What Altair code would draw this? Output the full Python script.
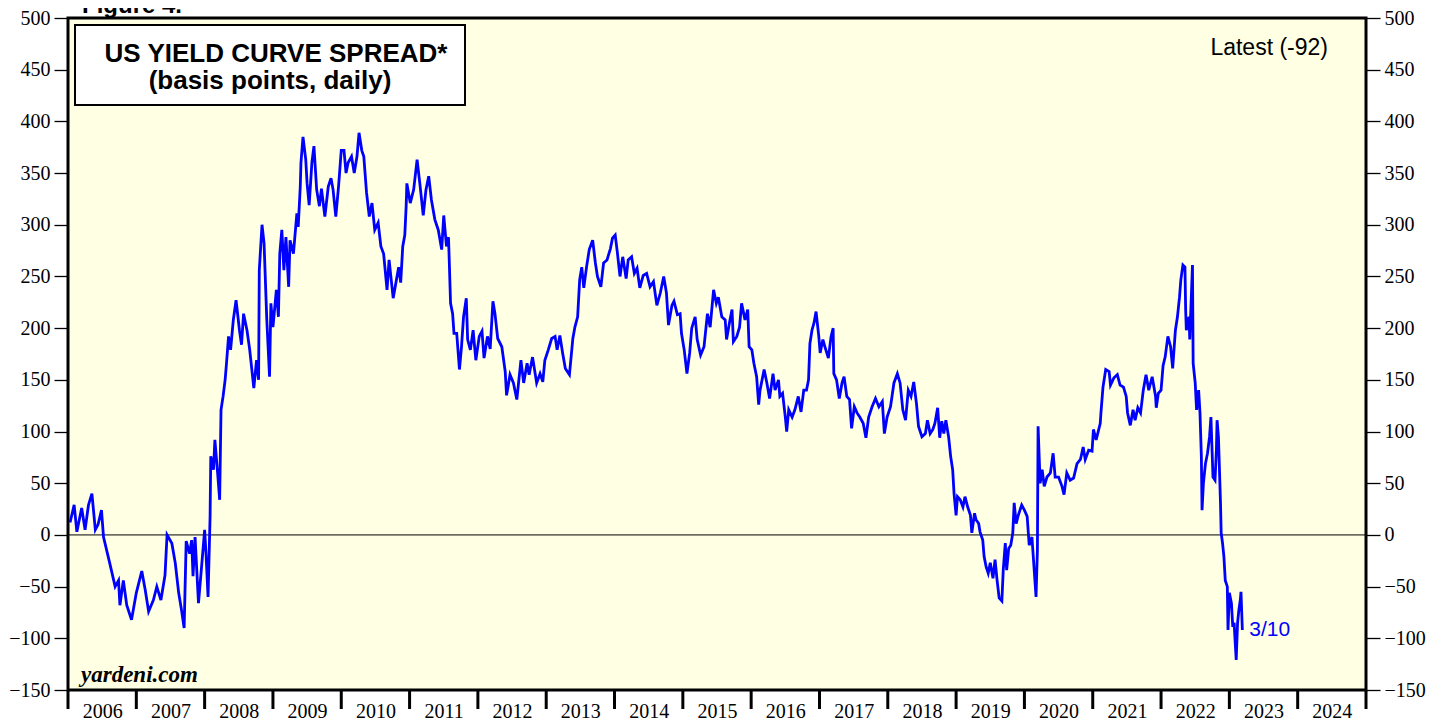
import altair as alt
import pandas as pd

# ---- data (decimal year, basis points) ----
years = [
    2006.03, 2006.09, 2006.13, 2006.20, 2006.25, 2006.30, 2006.35, 2006.40, 2006.44, 2006.49,
    2006.52, 2006.61, 2006.69, 2006.74, 2006.76, 2006.81, 2006.86, 2006.93, 2007.00, 2007.08,
    2007.13, 2007.18, 2007.25, 2007.30, 2007.36, 2007.42, 2007.45, 2007.52, 2007.57, 2007.62,
    2007.66, 2007.70, 2007.73, 2007.78, 2007.81, 2007.83, 2007.86, 2007.91, 2007.96, 2008.00,
    2008.02, 2008.05, 2008.08, 2008.09, 2008.13, 2008.15, 2008.19, 2008.22, 2008.24, 2008.27,
    2008.30, 2008.32, 2008.35, 2008.38, 2008.42, 2008.46, 2008.51, 2008.54, 2008.57, 2008.62,
    2008.66, 2008.72, 2008.76, 2008.79, 2008.80, 2008.84, 2008.87, 2008.91, 2008.95, 2008.97,
    2009.00, 2009.05, 2009.08, 2009.10, 2009.13, 2009.16, 2009.19, 2009.23, 2009.25, 2009.30,
    2009.35, 2009.37, 2009.40, 2009.41, 2009.44, 2009.48, 2009.50, 2009.53, 2009.57, 2009.60,
    2009.64, 2009.68, 2009.71, 2009.76, 2009.81, 2009.85, 2009.88, 2009.92, 2009.96, 2010.00,
    2010.04, 2010.07, 2010.10, 2010.15, 2010.19, 2010.23, 2010.26, 2010.30, 2010.33, 2010.37,
    2010.41, 2010.45, 2010.49, 2010.54, 2010.58, 2010.62, 2010.67, 2010.70,
    2010.76, 2010.84, 2010.87, 2010.90, 2010.93, 2010.95, 2010.96, 2011.01, 2011.06, 2011.11,
    2011.15, 2011.20, 2011.24, 2011.28, 2011.32, 2011.37, 2011.42, 2011.47, 2011.50, 2011.54,
    2011.57, 2011.60, 2011.63, 2011.65, 2011.69, 2011.73, 2011.76, 2011.79, 2011.83, 2011.85,
    2011.89, 2011.93, 2011.97, 2012.02, 2012.06, 2012.09, 2012.14, 2012.18, 2012.22, 2012.25,
    2012.29, 2012.35, 2012.40, 2012.42, 2012.47, 2012.52, 2012.57, 2012.63, 2012.67, 2012.72,
    2012.75, 2012.80, 2012.86, 2012.91, 2012.95, 2012.98, 2013.03, 2013.08, 2013.13, 2013.16,
    2013.20, 2013.24, 2013.28, 2013.34, 2013.39, 2013.42, 2013.46, 2013.49, 2013.52, 2013.55,
    2013.59, 2013.63, 2013.68, 2013.72, 2013.75, 2013.80, 2013.84, 2013.89, 2013.94, 2013.97,
    2014.01, 2014.04, 2014.08, 2014.12, 2014.17, 2014.20, 2014.25, 2014.29, 2014.33, 2014.37,
    2014.42, 2014.47, 2014.52, 2014.57, 2014.62, 2014.67, 2014.72, 2014.76, 2014.79, 2014.84,
    2014.87, 2014.92, 2014.96, 2014.98, 2015.02, 2015.06, 2015.10, 2015.13, 2015.18, 2015.21,
    2015.26, 2015.31, 2015.36, 2015.40,
    2015.45, 2015.49, 2015.52, 2015.57, 2015.62, 2015.64, 2015.69, 2015.72, 2015.74, 2015.79,
    2015.83, 2015.86, 2015.91, 2015.95, 2015.97, 2016.01, 2016.04, 2016.08, 2016.11, 2016.13,
    2016.19, 2016.23, 2016.27, 2016.32, 2016.35, 2016.40, 2016.42, 2016.46, 2016.50, 2016.52,
    2016.55, 2016.60, 2016.64, 2016.69, 2016.73, 2016.77, 2016.81, 2016.84, 2016.86, 2016.89,
    2016.92, 2016.95, 2016.99, 2017.01, 2017.05, 2017.08, 2017.13, 2017.17, 2017.20, 2017.21,
    2017.25, 2017.29, 2017.33, 2017.36, 2017.40, 2017.44, 2017.47, 2017.51, 2017.55, 2017.59,
    2017.64, 2017.68, 2017.72, 2017.77, 2017.82, 2017.87, 2017.92, 2017.95, 2017.99, 2018.04,
    2018.09, 2018.14, 2018.18, 2018.22, 2018.26, 2018.30, 2018.34, 2018.38, 2018.42, 2018.45,
    2018.50, 2018.55, 2018.58, 2018.62, 2018.66, 2018.69, 2018.73, 2018.76, 2018.79, 2018.82,
    2018.85, 2018.89, 2018.92, 2018.95, 2018.97, 2019.00, 2019.02, 2019.06, 2019.10, 2019.13,
    2019.17, 2019.21, 2019.23, 2019.27, 2019.29, 2019.33, 2019.35, 2019.39, 2019.41, 2019.44,
    2019.47, 2019.50, 2019.54, 2019.57, 2019.60, 2019.63, 2019.67, 2019.69, 2019.72, 2019.74,
    2019.77, 2019.80, 2019.83, 2019.85, 2019.88, 2019.91, 2019.96, 2020.00,
    2020.04, 2020.07, 2020.11, 2020.14, 2020.17, 2020.19, 2020.20, 2020.23, 2020.26, 2020.29,
    2020.33, 2020.38, 2020.42, 2020.45, 2020.50, 2020.55, 2020.58, 2020.62, 2020.67, 2020.72,
    2020.77, 2020.82, 2020.86, 2020.89, 2020.94, 2020.99, 2021.01, 2021.05, 2021.11, 2021.12,
    2021.15, 2021.19, 2021.24, 2021.26, 2021.31, 2021.36, 2021.40, 2021.45, 2021.49, 2021.51,
    2021.55, 2021.59, 2021.62, 2021.66, 2021.70, 2021.74, 2021.78, 2021.82, 2021.87, 2021.92,
    2021.93, 2021.96, 2022.00, 2022.03, 2022.06, 2022.10, 2022.14, 2022.17, 2022.21, 2022.24,
    2022.27, 2022.29, 2022.32, 2022.35, 2022.36, 2022.37, 2022.41, 2022.42, 2022.46, 2022.47,
    2022.50, 2022.52, 2022.55, 2022.57, 2022.59, 2022.60, 2022.62, 2022.65, 2022.68, 2022.71,
    2022.73, 2022.76, 2022.79, 2022.81, 2022.82, 2022.84, 2022.87, 2022.88, 2022.90, 2022.92,
    2022.94, 2022.97, 2022.98, 2023.00, 2023.03, 2023.05, 2023.07, 2023.08, 2023.10, 2023.12,
    2023.14, 2023.16, 2023.17, 2023.19,
]
spread = [
    12, 29, 3, 26, 5, 29, 40, 5, 10, 24,
    -2, -27, -50, -44, -68, -44, -68, -82, -56, -35,
    -53, -74, -63, -50, -63, -39, 0, -8, -27, -56,
    -72, -90, -6, -18, -5, -40, -2, -66, -27, 5,
    -18, -60, 18, 76, 63, 92, 60, 34, 121, 134,
    150, 166, 192, 179, 208, 227, 198, 184, 214, 198,
    179, 142, 169, 150, 256, 300, 282, 208, 153, 224,
    201, 237, 211, 272, 295, 256, 288, 240, 285, 272,
    311, 298, 337, 360, 385, 363, 340, 319, 360, 376,
    334, 318, 335, 308, 337, 345, 334, 308, 337, 372,
    372, 350, 360, 366, 350, 366, 389, 372, 366, 331,
    308, 321, 295, 302, 279, 272, 237, 266,
    229, 259, 244, 279, 290, 318, 340, 321, 334, 363,
    340, 309, 334, 347, 324, 305, 295, 276, 309, 279,
    288, 224, 214, 195, 195, 160, 182, 211, 229, 189,
    179, 198, 169, 192, 197, 171, 192, 180, 226, 214,
    190, 182, 158, 135, 155, 147, 131, 169, 147, 166,
    155, 172, 147, 156, 148, 169, 179, 190, 192, 179,
    193, 176, 161, 155, 190, 201, 211, 247, 259, 239,
    259, 276, 285, 263, 250, 240, 263, 266, 277, 287,
    290, 274, 250, 269, 248, 266, 269, 253, 258, 239,
    251, 253, 240, 245, 222, 234, 250, 234, 203, 222,
    226, 213, 214, 195, 179, 156, 176, 200, 211, 189,
    174, 182, 214, 201,
    237, 224, 230, 211, 208, 189, 208, 218, 187, 192,
    201, 224, 208, 218, 182, 179, 166, 153, 126, 140,
    160, 147, 132, 156, 140, 150, 134, 137, 114, 100,
    121, 114, 121, 134, 119, 140, 140, 150, 185, 198,
    205, 216, 192, 176, 189, 182, 171, 192, 200, 156,
    150, 132, 147, 153, 134, 131, 103, 124, 118, 114,
    108, 94, 114, 124, 132, 124, 129, 98, 114, 124,
    147, 156, 147, 121, 111, 140, 134, 148, 127, 105,
    95, 98, 111, 98, 102, 108, 123, 94, 110, 98,
    111, 95, 76, 63, 40, 19, 37, 34, 27, 37,
    27, 19, 2, 21, 15, 11, 3, -5, -21, -31,
    -37, -27, -42, -24, -44, -61, -64, -34, -8, -34,
    -13, -10, 2, 31, 11, 19, 29, 24,
    18, -10, -2, -31, -60, -15, 105, 50, 63, 47,
    56, 60, 79, 56, 56, 47, 39, 60, 53, 55,
    69, 73, 85, 73, 82, 81, 102, 92, 108, 118,
    143, 160, 158, 145, 152, 155, 145, 143, 134, 118,
    106, 121, 111, 123, 118, 140, 155, 140, 153, 134,
    123, 137, 140, 164, 172, 192, 182, 161, 198, 211,
    230, 247, 261, 259, 218, 198, 211, 189, 261, 166,
    147, 121, 140, 118, 76, 24, 50, 69, 79, 95,
    114, 56, 53, 82, 111, 95, 31, 2, -8, -21,
    -44, -50, -92, -56, -66, -89, -85, -98, -121, -85,
    -72, -63, -55, -92,
]
year_bounds = list(range(2006, 2026))          # year boundary tick marks
year_label_pos = [y + 0.5 for y in range(2006, 2025)]  # year labels centred in each year
y_ticks = list(range(-150, 501, 50))
latest_label = "3/10"
title_lines = ["US YIELD CURVE SPREAD*", "(basis points, daily)"]

W, H = 1298, 672
SERIF = "Liberation Serif"
SANS = "Liberation Sans"

df = pd.DataFrame({"year": years, "spread": spread})
xs = alt.Scale(domain=[2006, 2025], nice=False, zero=False)
ys = alt.Scale(domain=[-150, 500], nice=False, zero=False)

x_axis = alt.Axis(values=year_label_pos, labelExpr="format(floor(datum.value), 'd')",
                  tickSize=0, domain=False, grid=False, labelFont=SERIF, labelFontSize=20,
                  labelColor="black", labelPadding=11, labelFlush=False, title=None)


def y_axis(orient):
    return alt.Axis(orient=orient, values=y_ticks, tickSize=14, tickWidth=1.3, tickColor="black",
                    domain=False, grid=False, labelFont=SERIF, labelFontSize=20,
                    labelColor="black", labelPadding=4, title=None, labelFlush=False)


line = alt.Chart(df).mark_line(color="#0000FF", strokeWidth=2.8).encode(
    x=alt.X("year:Q", scale=xs, axis=x_axis),
    y=alt.Y("spread:Q", scale=ys, axis=y_axis("left")),
)

zero = alt.Chart(pd.DataFrame({"v": [0]})).mark_rule(color="black", strokeWidth=1).encode(
    y=alt.Y("v:Q", scale=ys, axis=y_axis("right")),
)

year_ticks = alt.Chart(pd.DataFrame({"year": year_bounds})).mark_rule(
    color="black", strokeWidth=3).encode(
    x=alt.X("year:Q", scale=xs, axis=x_axis),
    y=alt.value(H),
    y2=alt.value(H + 19),
)

end_label = alt.Chart(pd.DataFrame({"year": [years[-1]], "spread": [spread[-1]],
                                    "t": [latest_label]})).mark_text(
    align="left", baseline="middle", dx=7, color="#0000FF", font=SANS, fontSize=21).encode(
    x=alt.X("year:Q", scale=xs, axis=x_axis),
    y=alt.Y("spread:Q", scale=ys, axis=None),
    text="t:N",
)

box = alt.Chart(pd.DataFrame({"a": [1]})).mark_rect(
    fill="white", stroke="black", strokeWidth=2).encode(
    x=alt.value(7), x2=alt.value(397), y=alt.value(7), y2=alt.value(87))

title1 = alt.Chart(pd.DataFrame({"t": [title_lines[0]]})).mark_text(
    align="center", baseline="alphabetic", font=SANS, fontWeight="bold", fontSize=26,
    color="black").encode(x=alt.value(208), y=alt.value(44), text="t:N")
title2 = alt.Chart(pd.DataFrame({"t": [title_lines[1]]})).mark_text(
    align="center", baseline="alphabetic", font=SANS, fontWeight="bold", fontSize=26,
    color="black").encode(x=alt.value(202), y=alt.value(71), text="t:N")

latest = alt.Chart(pd.DataFrame({"t": ["Latest (-92)"]})).mark_text(
    align="right", baseline="alphabetic", font=SANS, fontSize=23, color="black").encode(
    x=alt.value(1260), y=alt.value(37), text="t:N")

source = alt.Chart(pd.DataFrame({"t": ["yardeni.com"]})).mark_text(
    align="left", baseline="alphabetic", font=SERIF, fontSize=23, fontWeight="bold",
    fontStyle="italic", color="black").encode(x=alt.value(13), y=alt.value(664), text="t:N")

figure = alt.Chart(pd.DataFrame({"t": ["Figure 4."]})).mark_text(
    align="left", baseline="alphabetic", font=SANS, fontSize=24, fontWeight="bold",
    color="black").encode(x=alt.value(14), y=alt.value(-5), text="t:N")

chart = alt.layer(
    zero, line, year_ticks, end_label, box, title1, title2, latest, source, figure
).resolve_axis(y="independent").properties(
    width=W, height=H,
    autosize=alt.AutoSizeParams(type="none"),
    padding={"left": 60, "top": 10, "right": 60, "bottom": 38},
    background="white",
).configure_view(stroke="black", strokeWidth=3, fill="#FFFFE4")

chart.save("out.html", embed_options={"renderer": "svg", "actions": False})
